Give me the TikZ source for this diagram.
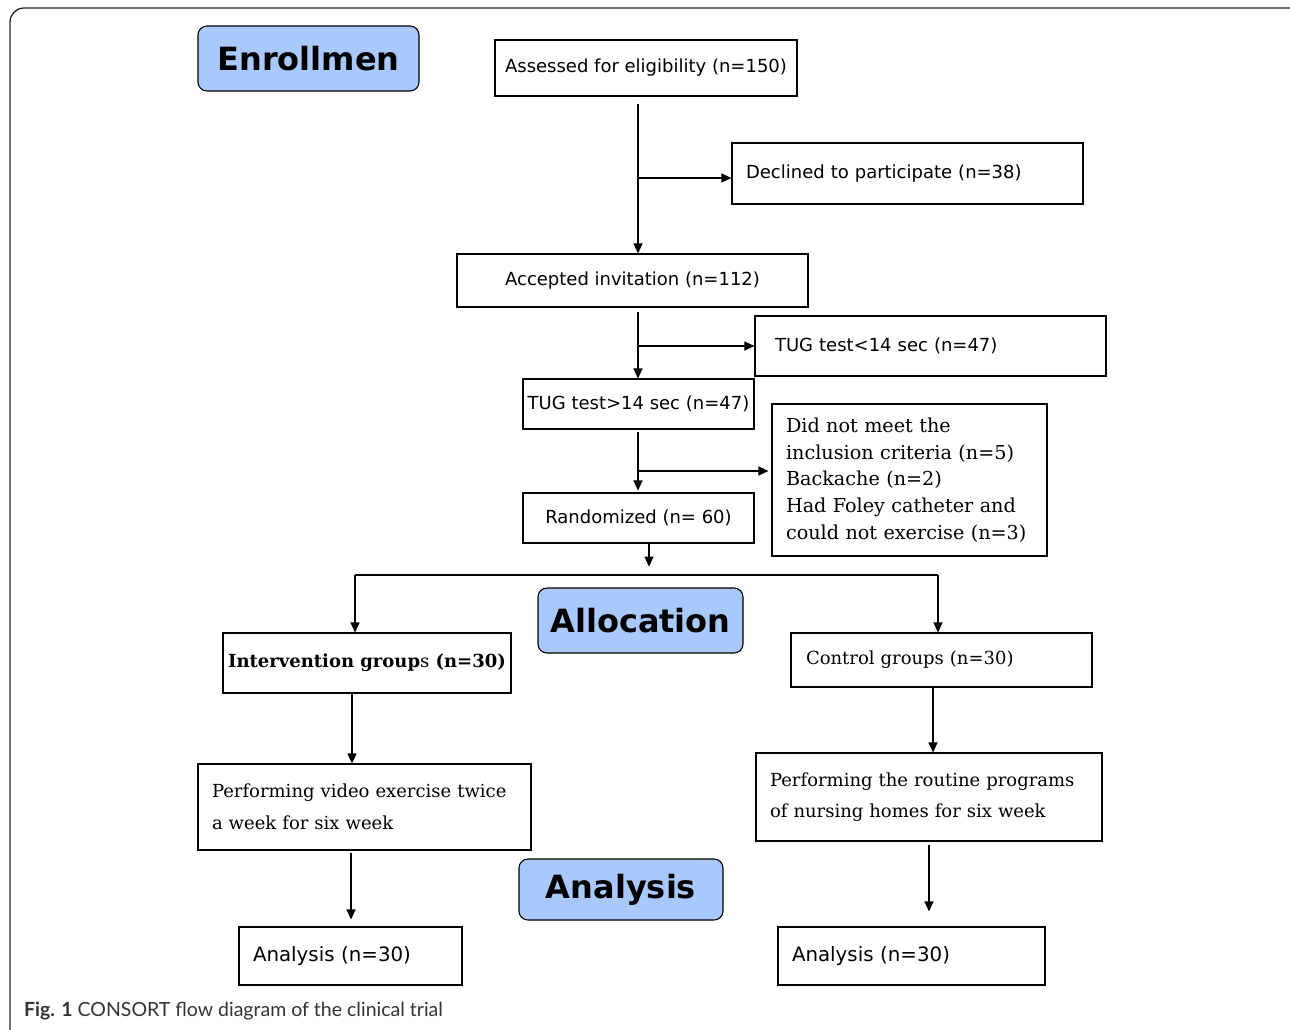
\documentclass[tikz,border=0pt]{standalone}
\usepackage{fontspec}
\setmainfont{DejaVu Serif}
\setsansfont{DejaVu Sans}
\newfontfamily\capfont{Lato}
\usetikzlibrary{arrows.meta,calc}
\definecolor{lblue}{HTML}{A9C8FB}
\begin{document}
\begin{tikzpicture}[x=1pt,y=-1pt,
  box/.style={draw,line width=1.1pt,inner ysep=0pt,inner xsep=0pt,font=\sffamily\fontsize{18}{22}\selectfont},
  lbox/.style 2 args={box,align=left,inner xsep=#2,text width=#1-2*#2},
  hdr/.style={draw,line width=1.1pt,rounded corners=9pt,fill=lblue,inner sep=0pt,font=\sffamily\bfseries\fontsize{32}{38}\selectfont},
  tip/.style={-{Triangle[length=10pt,width=9pt]}},
  arr/.style={line width=1.1pt,tip},
  ln/.style={line width=1.1pt}]
\useasboundingbox (0,0) rectangle (1290,1029);
\begin{scope}
\clip (0,0) rectangle (1290,1029);
\draw[line width=1.3pt,rounded corners=14pt,black!85] (10,8) rectangle (1306,1046);
\end{scope}

% headers
\node[hdr,minimum width=221pt,minimum height=65pt] (enr) at (308.5,58.5) {Enrollmen};
\node[hdr,minimum width=205pt,minimum height=65pt] (alloc) at (640.5,620.5) {Allocation};
\node[hdr,minimum width=204pt,minimum height=61pt] (anl) at (621,889.5) {Analysis};

% boxes
\node[box,minimum width=302pt,minimum height=56pt] (assessed) at (646,68) {Assessed for eligibility (n=150)};
\node[lbox={351pt}{14pt},minimum height=61pt] (declined) at (907.5,173.5) {Declined to participate (n=38)};
\node[box,minimum width=351pt,minimum height=53pt] (accepted) at (632.5,280.5) {Accepted invitation (n=112)};
\node[lbox={351pt}{20pt},minimum height=60pt] (tugl) at (930.5,346) {TUG test<14 sec (n=47)};
\node[box,minimum width=231pt,minimum height=50pt] (tugg) at (638.5,404) {TUG test>14 sec (n=47)};
\node[lbox={275pt}{14pt},minimum height=152pt,font=\rmfamily\fontsize{19.2}{26.7}\selectfont] (dnm) at (909.5,480) {Did not meet the\\inclusion criteria (n=5)\\Backache (n=2)\\Had Foley catheter and\\could not exercise (n=3)};
\node[box,minimum width=231pt,minimum height=50pt] (rand) at (638.5,518) {Randomized (n= 60)};
\node[box,minimum width=288pt,minimum height=60pt,font=\rmfamily\fontsize{18}{22}\selectfont] (inter) at (367,663) {\textbf{Intervention group}s\textbf{ (n=30)}};
\node[lbox={301pt}{15pt},minimum height=54pt,font=\rmfamily\fontsize{18}{22}\selectfont] (control) at (941.5,660) {Control groups (n=30)};
\node[lbox={333pt}{14pt},minimum height=86pt,font=\rmfamily\fontsize{18}{32}\selectfont] (vid) at (364.5,807) {Performing video exercise twice\\a week for six week};
\node[lbox={346pt}{14pt},minimum height=88pt,font=\rmfamily\fontsize{18}{31}\selectfont] (routine) at (929,797) {Performing the routine programs\\of nursing homes for six week};
\node[lbox={223pt}{14pt},minimum height=58pt,font=\sffamily\fontsize{19.8}{24}\selectfont] (aL) at (350.5,956) {Analysis (n=30)};
\node[lbox={267pt}{14pt},minimum height=58pt,font=\sffamily\fontsize{19.8}{24}\selectfont] (aR) at (911.5,956) {Analysis (n=30)};

% connectors
\coordinate (sp) at (638,0);
\draw[arr] ($(sp|-assessed.south)+(0,7)$) -- (sp|-accepted.north);
\draw[arr] ($(sp|-declined.west)+(0,4.5)$) -- ($(declined.west)+(0,4.5)$);
\draw[arr] ($(sp|-accepted.south)+(0,4)$) -- (sp|-tugg.north);
\draw[arr] (sp|-tugl.west) -- (tugl.west);
\draw[arr] ($(sp|-tugg.south)+(0,2)$) -- ($(sp|-rand.north)+(0,-2)$);
\draw[arr,shorten >=3pt] ($(sp|-dnm.west)+(0,-9)$) -- ($(dnm.west)+(0,-9)$);
\coordinate (rs) at ($(rand.south)+(10.5,0)$);
\coordinate (rend) at ($(rs)+(0,23)$);
\draw[arr] (rs) -- (rend);
\coordinate (hl) at (355,575);
\coordinate (hr) at (938,575);
\draw[arr] (hl) -- (hl|-inter.north);
\draw[ln] (hl) -- (hr);
\draw[arr] (hr) -- (hr|-control.north);
\coordinate (i1) at ($(inter.south)+(-15,0)$);
\draw[arr] (i1) -- (i1|-vid.north);
\coordinate (c1) at ($(control.south)+(-8.5,0)$);
\draw[arr] (c1) -- (c1|-routine.north);
\coordinate (v1) at ($(vid.south)+(-13.5,2)$);
\draw[arr,shorten >=7pt] (v1) -- (v1|-aL.north);
\coordinate (p1) at ($(routine.south)+(0,3)$);
\draw[arr,shorten >=15pt] (p1) -- (p1|-aR.north);

% caption
\node[anchor=west,inner sep=0pt,text=black!80,font=\capfont\fontsize{19.5}{24}\selectfont] (cap) at (24,1011) {\textbf{Fig. 1} CONSORT flow diagram of the clinical trial};
\end{tikzpicture}
\end{document}
